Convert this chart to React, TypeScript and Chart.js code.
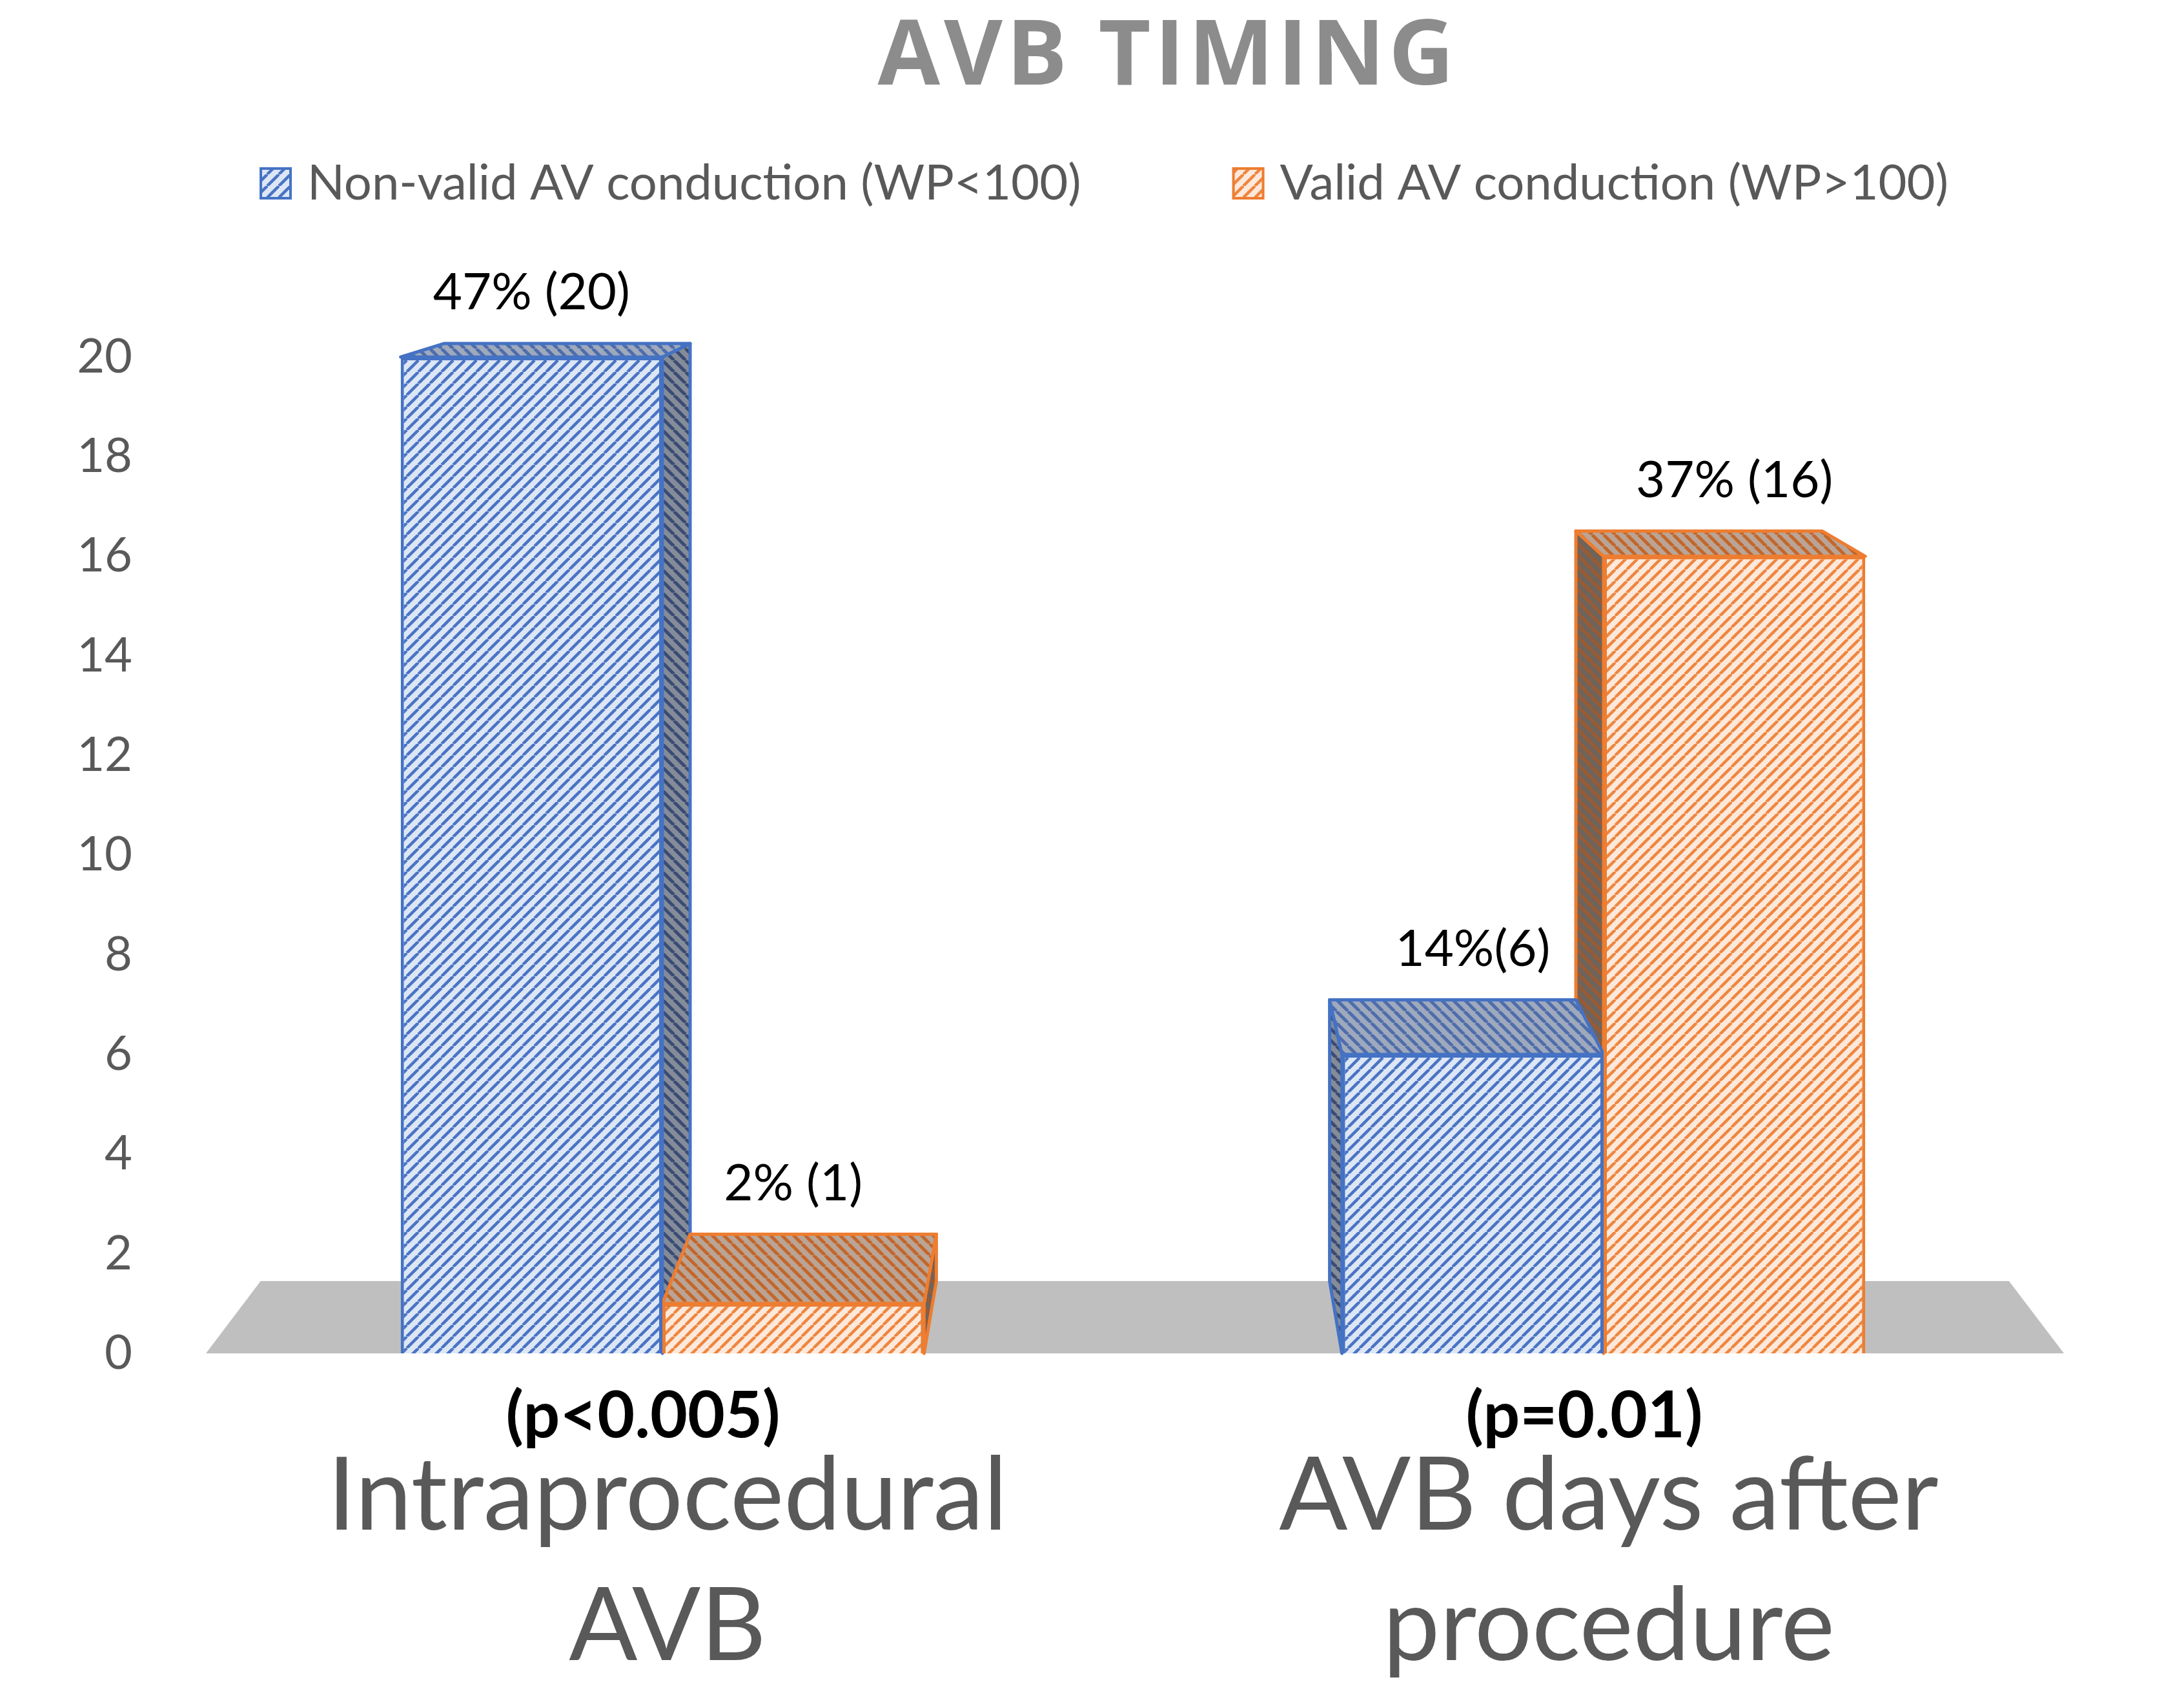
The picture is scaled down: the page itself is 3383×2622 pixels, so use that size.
import { useEffect, useRef } from "react"
import { Chart, registerables } from "chart.js"

Chart.register(...registerables)

const title = "AVB TIMING"
const categories = [
  ["Intraprocedural", "AVB"],
  ["AVB days after", "procedure"],
]
const seriesNames = ["Non-valid AV conduction (WP<100)", "Valid AV conduction (WP>100)"]
const nonValidCounts = [20, 6]
const validCounts = [1, 16]
const nonValidLabels = ["47% (20)", "14%(6)"]
const validLabels = ["2% (1)", "37% (16)"]
const pValues = ["(p<0.005)", "(p=0.01)"]
const yTicks = [0, 2, 4, 6, 8, 10, 12, 14, 16, 18, 20]

const GRAY = "#595959"

// small diagonal hatch tile used as a fill pattern
function hatch(ctx: CanvasRenderingContext2D, bg: string, line: string, dir: 1 | -1, size = 18, lw = 4.5) {
  const c = document.createElement("canvas")
  c.width = size
  c.height = size
  const g = c.getContext("2d")!
  g.fillStyle = bg
  g.fillRect(0, 0, size, size)
  g.strokeStyle = line
  g.lineWidth = lw
  g.beginPath()
  for (const o of [-size, 0, size]) {
    if (dir === 1) {
      g.moveTo(o, size)
      g.lineTo(o + size, 0)
    } else {
      g.moveTo(o, 0)
      g.lineTo(o + size, size)
    }
  }
  g.stroke()
  return ctx.createPattern(c, "repeat")!
}

export default function App() {
  const canvasRef = useRef<HTMLCanvasElement>(null)
  const chartRef = useRef<Chart | null>(null)

  useEffect(() => {
    if (!canvasRef.current) return
    if (chartRef.current) chartRef.current.destroy()
    const ctx = canvasRef.current.getContext("2d")
    if (!ctx) return

    const borders = ["#4472c4", "#ed7d31"]
    const fronts = [
      hatch(ctx, "#dce6f5", "#4a73c4", 1),
      hatch(ctx, "#fde9db", "#ee8640", 1),
    ]
    const tops = [
      hatch(ctx, "#9ea9bd", "#4f6dab", -1, 18, 5),
      hatch(ctx, "#b9a496", "#c4662a", -1, 18, 5),
    ]
    const sides = [
      hatch(ctx, "#858c99", "#3a4c74", -1, 18, 5),
      hatch(ctx, "#6f645c", "#9c5a30", -1, 18, 5),
    ]
    const barLabels = [nonValidLabels, validLabels]

    const K = 0.059
    const vanish = (chart: Chart) => {
      const a = chart.chartArea
      return { vx: (a.left + a.right) / 2, vy: a.top - 0.23 * (a.bottom - a.top) }
    }

    const depthPlugin = {
      id: "depth3d",
      beforeDatasetsDraw(chart: Chart) {
        const { ctx: c, chartArea: a } = chart
        const { vx, vy } = vanish(chart)
        const P = (x: number, y: number): [number, number] => [x + K * (vx - x), y + K * (vy - y)]
        const poly = (pts: [number, number][]) => {
          c.beginPath()
          c.moveTo(pts[0][0], pts[0][1])
          for (let i = 1; i < pts.length; i++) c.lineTo(pts[i][0], pts[i][1])
          c.closePath()
        }
        c.save()
        // floor
        const base = a.bottom
        const fl = a.left + 22
        const fr = a.right - 16
        c.fillStyle = "#bfbfbf"
        poly([[fl, base], [fr, base], P(fr, base), P(fl, base)])
        c.fill()

        // side and top faces, farthest from the eye first
        const items: { x: number; y: number; b: number; w: number; i: number }[] = []
        chart.data.datasets.forEach((_, i) => {
          chart.getDatasetMeta(i).data.forEach((bar: any) => {
            const p = bar.getProps(["x", "y", "base", "width"], true)
            items.push({ x: p.x, y: p.y, b: p.base, w: p.width, i })
          })
        })
        items.sort((m, n) => Math.abs(n.x - vx) - Math.abs(m.x - vx))
        c.lineWidth = 5
        c.lineJoin = "round"
        for (const it of items) {
          const l = it.x - it.w / 2
          const r = it.x + it.w / 2
          c.strokeStyle = borders[it.i]
          const ex = r < vx ? r : l
          c.fillStyle = sides[it.i]
          poly([[ex, it.y], P(ex, it.y), P(ex, it.b), [ex, it.b]])
          c.fill()
          c.stroke()
          c.fillStyle = tops[it.i]
          poly([[l, it.y], [r, it.y], P(r, it.y), P(l, it.y)])
          c.fill()
          c.stroke()
        }
        c.restore()
      },
      afterDatasetsDraw(chart: Chart) {
        const { ctx: c } = chart
        const { vy } = vanish(chart)
        c.save()
        c.font = "78px Lato"
        c.fillStyle = "#000000"
        c.textAlign = "center"
        c.textBaseline = "middle"
        chart.data.datasets.forEach((_, i) => {
          chart.getDatasetMeta(i).data.forEach((bar: any, j: number) => {
            const p = bar.getProps(["x", "y"], true)
            const backTop = p.y + K * (vy - p.y)
            c.fillText(barLabels[i][j], p.x, backTop - 78)
          })
        })
        c.restore()
      },
      afterDraw(chart: Chart) {
        const { ctx: c, chartArea: a } = chart
        const xs = chart.scales.x
        const mid = (a.left + a.right) / 2
        c.save()

        // title
        c.font = "bold 140px 'Open Sans'"
        c.fillStyle = "#8c8c8c"
        c.textAlign = "center"
        c.textBaseline = "alphabetic"
        ;(c as any).letterSpacing = "6px"
        c.fillText(title, mid + 54, 131)
        ;(c as any).letterSpacing = "0px"

        // p-values under each group
        c.font = "bold 100px Lato"
        c.fillStyle = "#000000"
        c.textBaseline = "middle"
        pValues.forEach((t, j) => c.fillText(t, xs.getPixelForValue(j) - 30, a.bottom + 98))

        // legend
        c.font = "76px Lato"
        const box = 46
        const gapText = 26
        const gapItem = 236
        const widths = seriesNames.map((n) => box + gapText + c.measureText(n).width)
        const total = widths.reduce((s, w) => s + w, 0) + gapItem * (widths.length - 1)
        let x = mid - 44 - total / 2
        const ly = 284
        c.textAlign = "left"
        seriesNames.forEach((n, i) => {
          c.fillStyle = fronts[i]
          c.fillRect(x, ly - box / 2, box, box)
          c.strokeStyle = borders[i]
          c.lineWidth = 4
          c.strokeRect(x, ly - box / 2, box, box)
          c.fillStyle = GRAY
          c.fillText(n, x + box + gapText, ly)
          x += widths[i] + gapItem
        })
        c.restore()
      },
    }

    chartRef.current = new Chart(ctx, {
      type: "bar",
      data: {
        labels: categories,
        datasets: [
          {
            label: seriesNames[0],
            data: nonValidCounts,
            backgroundColor: fronts[0],
            borderColor: borders[0],
            borderWidth: 5,
            categoryPercentage: 0.556,
            barPercentage: 1,
          },
          {
            label: seriesNames[1],
            data: validCounts,
            backgroundColor: fronts[1],
            borderColor: borders[1],
            borderWidth: 5,
            categoryPercentage: 0.556,
            barPercentage: 1,
          },
        ],
      },
      options: {
        responsive: true,
        maintainAspectRatio: false,
        animation: false,
        devicePixelRatio: 1,
        layout: { padding: { left: 0, right: 170, top: 553, bottom: 0 } },
        plugins: {
          legend: { display: false },
          tooltip: { enabled: false },
          title: { display: false },
        },
        scales: {
          x: {
            grid: { display: false, drawTicks: false },
            border: { display: false },
            ticks: {
              color: GRAY,
              font: { family: "Lato", size: 157, lineHeight: 1.29 },
              padding: 121,
              labelOffset: 8,
              maxRotation: 0,
              autoSkip: false,
            },
            afterFit: (scale: any) => {
              scale.height = 526
            },
          },
          y: {
            min: 0,
            max: 20,
            grid: { display: false, drawTicks: false },
            border: { display: false },
            afterBuildTicks: (scale: any) => {
              scale.ticks = yTicks.map((v) => ({ value: v }))
            },
            ticks: {
              color: GRAY,
              font: { family: "Lato", size: 74 },
              padding: 92,
            },
            afterFit: (scale: any) => {
              scale.width = 297
            },
          },
        },
      },
      plugins: [depthPlugin],
    })

    return () => {
      if (chartRef.current) {
        chartRef.current.destroy()
        chartRef.current = null
      }
    }
  }, [])

  return (
    <div style={{ position: "fixed", left: 0, top: 0, width: "100vw", height: "100vh", background: "#ffffff" }}>
      <canvas ref={canvasRef} />
    </div>
  )
}
